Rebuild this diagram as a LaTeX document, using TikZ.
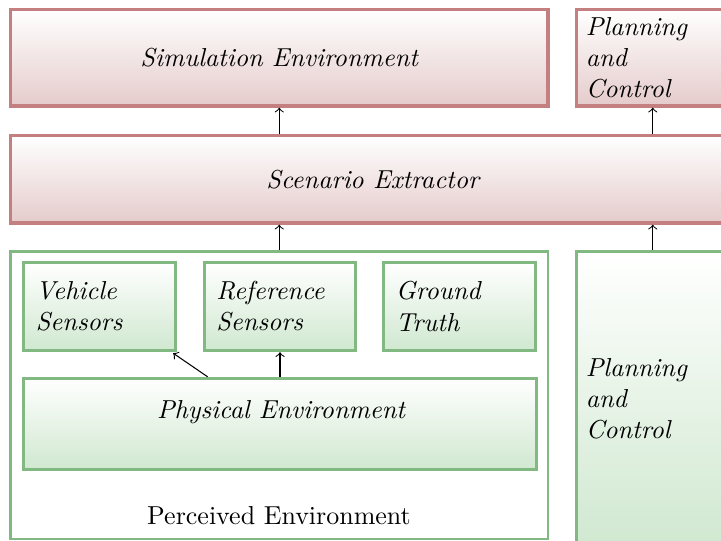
\documentclass[tikz,border=0pt]{standalone}
\usetikzlibrary{calc}
\definecolor{redline}{RGB}{196,128,128}
\definecolor{redshade}{RGB}{229,203,203}
\definecolor{greenline}{RGB}{130,184,130}
\definecolor{greenshade}{RGB}{208,232,208}
\begin{document}
\begin{tikzpicture}[x=0.385pt,y=-0.385pt,
  box/.style={rectangle, inner sep=0pt, line width=1.3pt, font=\itshape},
  redbox/.style={box, draw=redline, top color=white, bottom color=redshade},
  greenbox/.style={box, draw=greenline, top color=white, bottom color=greenshade},
  outerbox/.style={rectangle, inner sep=0pt, draw=greenline, fill=white, line width=1.1pt},
  multi/.style={text width=49pt, align=left},
  wide/.style={text width=51.6pt, align=left},
  link/.style={->, black, line width=0.4pt}]
\useasboundingbox (0,0) rectangle (721,541);
\clip (0,0) rectangle (721,541);

% upper layer
\node[redbox, minimum width=206.9pt, minimum height=37.15pt] (sim) at (279.25,57.75) {Simulation Environment};
\node[redbox, wide, minimum width=58.7pt, minimum height=37.15pt] (plantop) at (652.75,57.75) {Planning\\and\\Control};
\node[redbox, minimum width=278.9pt, minimum height=33.7pt] (scen) at (372.75,179.25) {Scenario Extractor};

% lower layer
\node[outerbox, minimum width=206.9pt, minimum height=110.7pt] (perc) at (279.25,395.25) {};
\node[greenbox, wide, minimum width=58.7pt, minimum height=113.4pt] (plan) at (652.75,398.75) {Planning\\and\\Control};
\node[greenbox, multi, minimum width=58.5pt, minimum height=33.9pt] (veh) at (99.5,306.5) {Vehicle\\Sensors};
\node[greenbox, multi, minimum width=58.1pt, minimum height=33.9pt] (refs) at (280,306.5) {Reference\\Sensors};
\node[greenbox, multi, minimum width=58.5pt, minimum height=33.9pt] (gt) at (459.5,306.5) {Ground\\Truth};
\node[greenbox, minimum width=197.5pt, minimum height=35pt] (phys) at (280,424) {};
\node[font=\itshape] (physlabel) at (281,412) {Physical Environment};
\node (perclabel) at (279,516) {Perceived Environment};

% data flow
\draw[link] (scen.north -| sim.south) -- (sim.south);
\draw[link] (scen.north -| plantop.south) -- (plantop.south);
\draw[link] (perc.north) -- (scen.south -| perc.north);
\draw[link] (plan.north) -- (scen.south -| plan.north);
\draw[link] (phys.north -| refs.south) -- (refs.south);
\draw[link] ($(phys.north west)!0.36!(phys.north east)$) -- ($(veh.south east)+(-4,1)$);
\end{tikzpicture}
\end{document}
